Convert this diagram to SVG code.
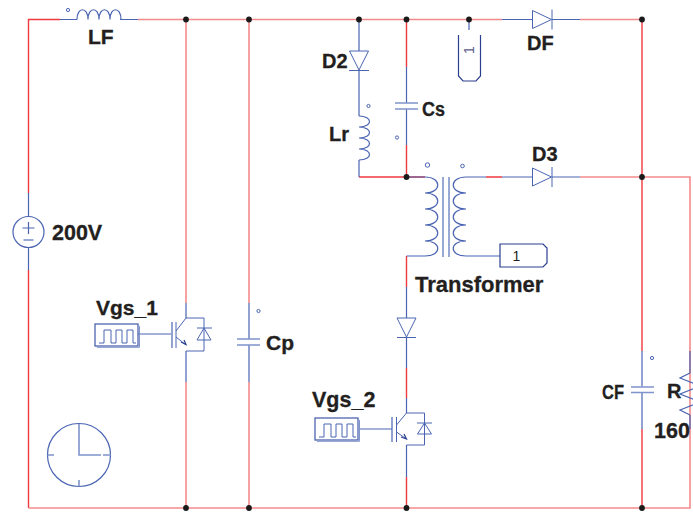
<svg xmlns="http://www.w3.org/2000/svg" width="693" height="512" viewBox="0 0 693 512">
<style>
.r{fill:none;stroke:#ef3a3f;stroke-width:1.4}
.p{fill:none;stroke:#f58a8c;stroke-width:1.6}
.b{fill:none;stroke:#4a64b2;stroke-width:1.2}
.l{fill:none;stroke:#8094cc;stroke-width:1.6}
.n{fill:none;stroke:#2b3f8f;stroke-width:1.2}
.o{fill:none;stroke:#4a64b2;stroke-width:1}
.d{fill:#1a1a1a}
text{font-family:"Liberation Sans",Arial,sans-serif;font-weight:700;fill:#231f20;stroke:#231f20;stroke-width:.3;font-size:20px}
</style>
<defs>
<circle id="dot" r="2.9" class="d"/>
<g id="pulse"><rect x="0" y="0" width="43" height="22" fill="none" stroke="#3f58a8" stroke-width="1.2"/><path d="M43 0.8l1.5 1.5v21h-42.5l-1.5-1.5" fill="none" stroke="#8094cc" stroke-width="1"/><path d="M4 19h5v-13h7v13h5v-13h6v13h5v-13h6v13h3" fill="none" stroke="#4a64b2" stroke-width="1"/></g>
</defs>
<g id="connectors">
<path class="r" d="M60 19.500H28.500V193M28.500 270V508"/>
<path class="p" d="M138 19.500H502M580 19.500H642M28.500 508H690V177H580M186 19.500V303M186 382V508M249 19.500V303M249 382V508"/>
<path class="r" d="M642 19.500V351M642 429V508M406.500 19.500V67M406.500 145V177M359 177H425M406.500 256V287M406.500 368V398M406.500 477V508M486 177H502"/>
<path class="b" d="M60 19.500H77M120 19.500H138M502 19.500H532M552 19.500H580M28.500 193V217M28.500 247V270M186 303V318M186 351V382M249 303V339M249 345V382M359 19.500V51M359 70V116M359 160V177M406.500 67V103M406.500 109V145M406.500 177H425M466 177H486M502 177H532M552 177H580M406.500 256H425M466 256H500M406.500 287V318M406.500 337V368M406.500 398V413M406.500 445V477M469 19.500V30M138 334H171M359 429H392M642 351V386.500M642 392V429M690 351V373M690 415V429"/>
</g>
<g id="LF"><circle cx="68" cy="10" r="1.600" class="o"/><path class="b" d="M77 19.500c0-13 11-13 11 0c0-13 11-13 11 0c0-13 11-13 11 0c0-13 11-13 11 0"/><text x="88" y="43.500" style="font-size:21px">LF</text></g>
<g id="V200"><circle cx="28.500" cy="232" r="15.500" class="b"/><path class="b" d="M22.500 228h12M28.500 222v12"/><path class="l" d="M23.500 240h10"/><text x="52" y="240" style="font-size:21.500px">200V</text></g>
<g id="Vgs_1"><use href="#pulse" x="95" y="324"/><text x="96" y="315" style="font-size:21px">Vgs_1</text></g>
<g id="S1"><path class="b" d="M172 322V348"/><path class="o" d="M176 322V348M176 331L186 318M176 337L186 345M186 318H204V351H186M197 328H212M204 328L197 340H211Z"/><path class="n" d="M181 342L186 344.500L184 340"/></g>
<g id="Cp"><circle cx="258.500" cy="311" r="1.600" class="o"/><path class="l" d="M237 339H260M237 345H260"/><text x="266" y="349.500" style="font-size:21px">Cp</text></g>
<g id="Vgs_2"><use href="#pulse" x="315" y="418"/><text x="312" y="407" style="font-size:21.500px">Vgs_2</text></g>
<g id="S2"><path class="b" d="M392 417V442"/><path class="o" d="M396.500 417V442M396.500 425L406.500 413M396.500 432L406.500 439M406.500 413H424.500V445H406.500M417 423H432M424.500 423L417.500 434H431.500Z"/><path class="n" d="M401 437L406.500 439L404 434"/></g>
<g id="D2"><path class="o" d="M349.500 51H368.500L359 70ZM349 70.500H369"/><text x="322" y="68" style="font-size:20px">D2</text></g>
<g id="Lr"><circle cx="368.500" cy="106" r="1.600" class="o"/><path class="b" d="M359 116c14 0 14 11 0 11c14 0 14 11 0 11c14 0 14 11 0 11c14 0 14 11 0 11"/><text x="329" y="141" style="font-size:20px">Lr</text></g>
<g id="Cs"><circle cx="397" cy="137.500" r="1.600" class="o"/><path class="l" d="M395 103H418M395 109H418"/><text x="422" y="115.500" style="font-size:20px" textLength="23" lengthAdjust="spacingAndGlyphs">Cs</text></g>
<g id="Probe"><path class="n" d="M458.500 35V76L463 81H476L480.500 76V35"/><text transform="translate(474 54) rotate(-90)" style="font-size:14px;font-weight:400;fill:#5a5f8a;stroke:none">1</text></g>
<g id="DF"><path class="o" d="M532.500 10.500V28.500L551.500 19.500ZM552 9.500V29.500"/><text x="527" y="50" style="font-size:20px">DF</text></g>
<g id="D3"><path class="o" d="M532.500 168V186L551.500 177ZM552 167V187"/><text x="532" y="161" style="font-size:20px">D3</text></g>
<g id="Transformer"><circle cx="427.500" cy="165" r="2.200" class="o"/><circle cx="462.500" cy="166" r="1.800" class="o"/><path class="b" d="M425 177c17 0 17 16 0 16c17 0 17 16 0 16c17 0 17 16 0 16c17 0 17 16 0 16c17 0 17 15 0 15M466 177c-17 0-17 16 0 16c-17 0-17 16 0 16c-17 0-17 16 0 16c-17 0-17 16 0 16c-17 0-17 15 0 15"/><path class="l" d="M443 177V257M449 177V257"/><text x="415" y="292" style="font-size:22px">Transformer</text></g>
<g id="Out1"><path class="n" d="M500 244H543L547 248V263L543 267H500Z"/><text x="516.500" y="261" text-anchor="middle" style="font-size:14px;font-weight:400;stroke:none">1</text></g>
<g id="D4"><path class="o" d="M397 318H416L406.500 337ZM397 337.500H416"/></g>
<g id="CF"><circle cx="652" cy="358" r="1.600" class="o"/><path class="l" d="M631 387H654M631 392.500H654"/><text x="602" y="399" style="font-size:20px" textLength="22" lengthAdjust="spacingAndGlyphs">CF</text></g>
<g id="R"><path class="b" d="M690 373L680 378L700 386L680 394L700 402L680 410L690 415"/><text x="667" y="398" style="font-size:20px">R</text><text x="654" y="438" style="font-size:21.500px">160</text></g>
<g id="Clock"><circle cx="79" cy="455" r="31.500" class="b"/><path class="l" d="M79 424V455H101M103 455H111M47.500 455H54M79 480V486.500"/></g>
<g id="junctions"><use href="#dot" x="186" y="19.500"/><use href="#dot" x="249" y="19.500"/><use href="#dot" x="359" y="19.500"/><use href="#dot" x="406.500" y="19.500"/><use href="#dot" x="469" y="19.500"/><use href="#dot" x="642" y="19.500"/><use href="#dot" x="406.500" y="177"/><use href="#dot" x="642" y="177"/><use href="#dot" x="186" y="508"/><use href="#dot" x="249" y="508"/><use href="#dot" x="406.500" y="508"/><use href="#dot" x="642" y="508"/></g>
</svg>
